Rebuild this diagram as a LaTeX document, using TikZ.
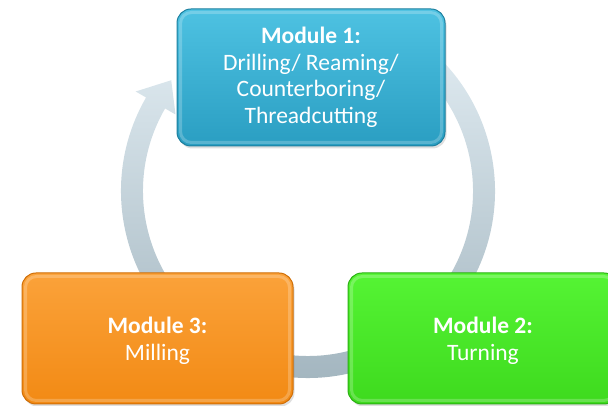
\documentclass[tikz,border=0pt]{standalone}
\usepackage{fontspec}
\setmainfont{Carlito}
\usetikzlibrary{shadows,calc}
\definecolor{ringtop}{HTML}{E2EDF3}
\definecolor{ringbot}{HTML}{9FB2BC}
\definecolor{blueT}{HTML}{4EC2E2}
\definecolor{blueB}{HTML}{2A9EC2}
\definecolor{blueD}{HTML}{1C7F9E}
\definecolor{orT}{HTML}{FBA23A}
\definecolor{orB}{HTML}{F28A14}
\definecolor{orD}{HTML}{CF6E06}
\definecolor{grT}{HTML}{55F434}
\definecolor{grB}{HTML}{3EDA1E}
\definecolor{grD}{HTML}{2BB012}
\tikzset{
  modbox/.style n args={3}{rounded corners=14pt, draw=#3, line width=1pt,
    top color=#1, bottom color=#2, text=white, align=center,
    font=\fontsize{23.5}{26.5}\selectfont,
    drop shadow={opacity=0.25, shadow xshift=1.5pt, shadow yshift=-2.5pt}},
  rim/.style={draw=white, draw opacity=0.22, line width=3pt, rounded corners=11pt},
  ring/.style={top color=ringtop, bottom color=ringbot},
  modtext/.style={text=white, align=center, font=\fontsize{23.5}{26.5}\selectfont}
}
\begin{document}
\begin{tikzpicture}[x=1pt,y=1pt]
\useasboundingbox (0,0) rectangle (608,406);
\clip (0,0) rectangle (608,406);
\coordinate (c) at (308,215);
% cycle ring with arrow head
\shade[ring]
  ($(c)+(60:187)$) arc[start angle=60, end angle=-210, radius=187]
  -- ($(c)+(150:199)$) -- ($(c)+(141:176)$) -- ($(c)+(150:153)$)
  -- ($(c)+(150:165)$) arc[start angle=-210, end angle=60, radius=165] -- cycle;
% modules
\node[modbox={blueT}{blueB}{blueD}, minimum width=268pt, minimum height=137pt]
  (m1) at (311,328.5) {\textbf{Module 1:}\\Drilling/ Reaming/\\Counterboring/\\Threadcutting};
\node[modbox={grT}{grB}{grD}, minimum width=270pt, minimum height=131pt]
  (m2) at (483,67.5) {};
\node[modbox={orT}{orB}{orD}, minimum width=271pt, minimum height=131pt]
  (m3) at (157.5,67.5) {};
\node[modtext] (t2) at ($(m2.center)+(0,-2.5)$) {\textbf{Module 2:}\\Turning};
\node[modtext] (t3) at ($(m3.center)+(0,-2.5)$) {\textbf{Module 3:}\\Milling};
\foreach \m in {m1,m2,m3}{
  \draw[rim] ($(\m.south west)+(4,4)$) rectangle ($(\m.north east)+(-4,-4)$);
}
\end{tikzpicture}
\end{document}
